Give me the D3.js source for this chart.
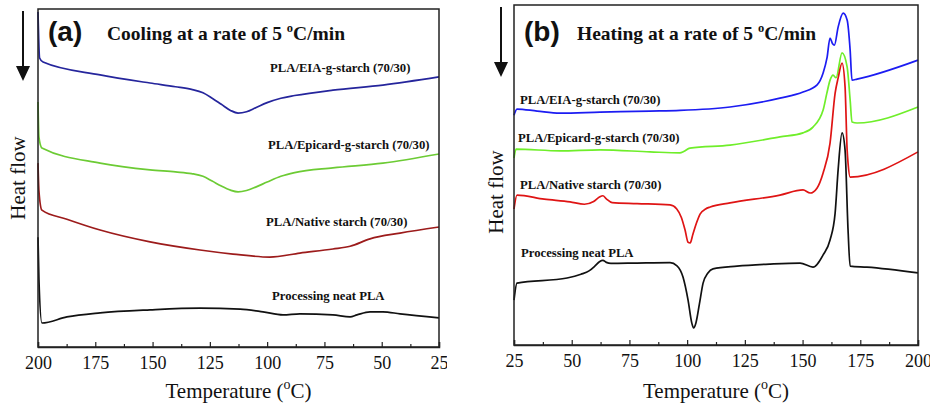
<!DOCTYPE html>
<html>
<head>
<meta charset="utf-8">
<script src="https://cdn.jsdelivr.net/npm/d3@7/dist/d3.min.js"></script>
<style>
  body { margin: 0; background: #fff; }
  svg { display: block; }
</style>
</head>
<body>
<svg id="chart" width="930" height="409"></svg>
<script>
// Temperature in degC, heat flow in arbitrary units (0 = bottom of frame, 100 = top of frame)

const coolTicks = [200, 175, 150, 125, 100, 75, 50, 25];
const heatTicks = [25, 50, 75, 100, 125, 150, 175, 200];

const seriesNames = [
  'PLA/EIA-g-starch (70/30)',
  'PLA/Epicard-g-starch (70/30)',
  'PLA/Native starch (70/30)',
  'Processing neat PLA'
];

// ---- (a) cooling ----
const coolEIA = [
  [200.0, 99.1], [199.3, 85.5], [197.8, 84.3], [172.9, 80.5], [151.1, 78.1], [140.0, 77.0],
  [133.0, 76.2], [128.0, 75.2], [124.0, 73.6], [120.0, 71.8], [116.0, 70.0], [112.7, 69.2],
  [109.0, 69.6], [105.0, 70.8], [100.0, 72.3], [94.0, 73.6], [88.0, 74.4], [71.3, 76.0],
  [49.5, 77.5], [25.0, 79.9]
];
const coolEpicard = [
  [200.0, 72.5], [199.6, 62.1], [198.3, 58.9], [172.9, 54.4], [151.1, 52.4], [140.0, 51.8],
  [133.0, 51.3], [128.0, 50.5], [124.0, 49.1], [120.0, 47.6], [116.0, 46.4], [112.7, 45.9],
  [109.0, 46.3], [105.0, 47.3], [100.0, 48.8], [94.0, 50.5], [88.0, 51.6], [71.3, 53.0],
  [49.5, 54.4], [25.0, 57.1]
];
const coolNative = [
  [200.0, 54.4], [199.6, 46.2], [198.3, 40.5], [187.4, 37.8], [172.9, 34.6], [151.1, 31.1],
  [129.3, 28.7], [114.9, 27.5], [98.8, 26.6], [85.7, 27.8], [71.3, 29.0], [63.8, 29.8],
  [55.1, 32.0], [42.0, 33.7], [25.0, 35.5]
];
const coolNeat = [
  [200.0, 32.5], [199.6, 20.1], [198.3, 7.1], [187.4, 8.9], [172.9, 10.1], [151.1, 11.0],
  [129.3, 11.5], [111.8, 11.2], [101.8, 10.4], [93.1, 9.5], [85.7, 9.8], [71.3, 9.5],
  [63.8, 8.9], [60.8, 9.5], [55.1, 10.4], [49.5, 10.4], [42.0, 9.8], [25.0, 8.6]
];

// ---- (b) heating ----
const heatEIA = [
  [25.0, 67.6], [26.3, 69.4], [35.0, 68.8], [44.9, 68.2], [62.3, 68.5], [83.9, 68.8],
  [96.9, 69.0], [118.6, 70.0], [140.2, 72.6], [150.2, 74.4], [156.3, 76.5], [158.9, 80.0],
  [160.6, 84.5], [161.9, 90.3], [163.0, 88.6], [163.8, 88.2], [165.4, 93.5], [167.6, 97.6],
  [169.3, 95.6], [170.6, 86.8], [171.4, 77.9], [173.6, 78.2], [200.0, 83.8]
];
const heatEpicard = [
  [25.0, 55.0], [25.9, 57.6], [44.9, 57.1], [62.3, 57.4], [83.9, 56.8], [96.9, 56.5],
  [98.5, 56.9], [101.2, 57.9], [118.6, 58.8], [140.2, 61.2], [150.2, 62.4], [154.5, 64.1],
  [158.9, 69.1], [160.5, 74.0], [161.9, 77.9], [163.2, 79.4], [164.5, 78.6], [167.1, 85.9],
  [169.3, 81.8], [170.6, 72.1], [171.4, 65.6], [173.6, 65.3], [200.0, 70.0]
];
const heatNative = [
  [25.0, 40.0], [26.3, 44.1], [38.1, 42.9], [49.3, 42.1], [55.5, 41.4], [59.5, 42.2],
  [62.0, 43.5], [63.5, 43.9], [65.0, 43.0], [67.5, 41.9], [78.3, 41.6], [92.6, 41.2],
  [95.5, 40.0], [97.5, 37.5], [99.1, 33.8], [100.4, 30.2], [101.3, 30.0], [102.5, 32.6],
  [104.0, 35.8], [105.6, 38.5], [108.0, 40.0], [110.0, 40.6], [118.6, 41.8], [140.2, 44.1],
  [150.2, 45.6], [153.3, 44.7], [156.3, 46.2], [158.9, 50.6], [161.9, 59.4], [164.1, 74.1],
  [165.4, 78.5], [167.1, 82.9], [168.4, 76.0], [169.3, 57.4], [169.7, 53.5], [170.6, 49.4],
  [200.0, 56.8]
];
const heatNeat = [
  [25.0, 13.2], [26.3, 18.2], [48.0, 19.7], [54.0, 20.8], [57.5, 21.8], [60.0, 23.2],
  [62.0, 24.5], [63.5, 24.9], [65.0, 24.3], [67.0, 24.0], [78.3, 24.1], [92.6, 24.2],
  [95.6, 23.3], [98.2, 20.0], [100.4, 13.2], [102.0, 6.5], [102.8, 5.0], [103.8, 6.5],
  [105.3, 12.0], [106.9, 18.2], [109.0, 21.2], [111.2, 22.4], [121.6, 23.2], [135.9, 23.8],
  [148.9, 24.1], [154.5, 22.9], [158.9, 26.5], [161.9, 30.9], [164.1, 38.8], [165.4, 51.5],
  [167.1, 62.4], [168.4, 57.4], [169.7, 33.8], [170.6, 23.2], [177.9, 22.9], [200.0, 21.2]
];

const svg = d3.select('#chart');
const SERIF = '"Liberation Serif", "Times New Roman", serif';
const SANS = '"Liberation Sans", Arial, sans-serif';

function supText(sel, before, after, size, supSize) {
  sel.append('tspan').text(before);
  sel.append('tspan').attr('font-size', supSize).attr('dy', -size * 0.42).text('o');
  sel.append('tspan').attr('dy', size * 0.42).text(after);
}

function drawPanel(cfg) {
  const root = svg.append('g');
  if (cfg.clipW) {
    svg.append('defs').append('clipPath').attr('id', cfg.id + 'clip')
      .append('rect').attr('x', cfg.clipX).attr('y', 0).attr('width', cfg.clipW).attr('height', 409);
    root.attr('clip-path', `url(#${cfg.id}clip)`);
  }

  const x = d3.scaleLinear().domain(cfg.domain).range([cfg.left, cfg.right]);
  const y = d3.scaleLinear().domain([0, 100]).range([cfg.bottom, cfg.top]);

  // curves
  const line = d3.line().x(d => x(d[0])).y(d => y(d[1])).curve(d3.curveMonotoneX);
  cfg.series.forEach((s, i) => {
    root.append('path')
      .datum(s)
      .attr('d', line)
      .attr('fill', 'none')
      .attr('stroke', cfg.colors[i])
      .attr('stroke-width', 1.7)
      .attr('stroke-linejoin', 'round');
  });

  // frame
  root.append('rect')
    .attr('x', cfg.left).attr('y', cfg.top)
    .attr('width', cfg.right - cfg.left).attr('height', cfg.bottom - cfg.top)
    .attr('fill', 'none').attr('stroke', '#222').attr('stroke-width', 1.5);

  // major + minor ticks (inward)
  const major = d3.axisBottom(x).tickValues(cfg.ticks).tickSize(-5).tickPadding(9).tickFormat(d3.format('d'));
  const minorVals = d3.range(cfg.ticks.length - 1).map(i => (cfg.ticks[i] + cfg.ticks[i + 1]) / 2);
  const minor = d3.axisBottom(x).tickValues(minorVals).tickSize(-3).tickFormat('');

  const gMinor = root.append('g').attr('transform', `translate(0,${cfg.bottom})`).call(minor);
  gMinor.select('.domain').remove();
  gMinor.selectAll('line').attr('stroke', '#222').attr('stroke-width', 1.2);

  const gMajor = root.append('g').attr('transform', `translate(0,${cfg.bottom})`).call(major);
  gMajor.select('.domain').attr('stroke', '#222').attr('stroke-width', 1.5);
  gMajor.selectAll('line').attr('stroke', '#222').attr('stroke-width', 1.2);
  gMajor.selectAll('text')
    .attr('font-family', SERIF).attr('font-size', 18).attr('fill', '#111');

  // x label
  const xl = root.append('text')
    .attr('x', (cfg.left + cfg.right) / 2).attr('y', 398)
    .attr('text-anchor', 'middle')
    .attr('font-family', SERIF).attr('font-size', 21).attr('fill', '#111');
  supText(xl, 'Temperature (', 'C)', 21, 14);

  // y label
  root.append('text')
    .attr('transform', `translate(${cfg.ylabelX},${cfg.ylabelY}) rotate(-90)`)
    .attr('text-anchor', 'middle')
    .attr('font-family', SERIF).attr('font-size', 21).attr('fill', '#111')
    .text('Heat flow');

  // arrow (endothermic down)
  root.append('line')
    .attr('x1', cfg.arrowX).attr('x2', cfg.arrowX)
    .attr('y1', cfg.top + 2).attr('y2', cfg.top + 60)
    .attr('stroke', '#111').attr('stroke-width', 2);
  root.append('path')
    .attr('d', `M${cfg.arrowX - 7},${cfg.top + 57}L${cfg.arrowX + 7},${cfg.top + 57}L${cfg.arrowX},${cfg.top + 72}Z`)
    .attr('fill', '#111');

  // panel letter + title
  root.append('text')
    .attr('x', cfg.left + 10).attr('y', 41)
    .attr('font-family', SANS).attr('font-weight', 'bold').attr('font-size', 28).attr('fill', '#111')
    .text(cfg.letter);
  const t = root.append('text')
    .attr('x', cfg.titleX).attr('y', 40)
    .attr('font-family', SERIF).attr('font-weight', 'bold').attr('font-size', 19.5).attr('fill', '#111');
  supText(t, cfg.title, 'C/min', 19.5, 12.5);

  // series labels
  seriesNames.forEach((name, i) => {
    root.append('text')
      .attr('x', cfg.labelX[i]).attr('y', cfg.labelY[i])
      .attr('font-family', SERIF).attr('font-weight', 'bold').attr('font-size', 12.7).attr('fill', '#111')
      .text(name);
  });
}

drawPanel({
  id: 'a', clipX: 0, clipW: 447,
  left: 38, right: 439, top: 9, bottom: 347,
  domain: [200, 25], ticks: coolTicks,
  series: [coolEIA, coolEpicard, coolNative, coolNeat],
  colors: ['#25259c', '#6ccb34', '#9c1b1b', '#111111'],
  letter: '(a)', title: 'Cooling at a rate of 5 ', titleX: 107,
  arrowX: 23, ylabelX: 25, ylabelY: 178,
  labelX: [270, 268, 266, 272], labelY: [72, 149, 226, 300]
});

drawPanel({
  id: 'b',
  left: 514, right: 918, top: 5, bottom: 345,
  domain: [25, 200], ticks: heatTicks,
  series: [heatEIA, heatEpicard, heatNative, heatNeat],
  colors: ['#1c1cf2', '#6fee2a', '#df1414', '#111111'],
  letter: '(b)', title: 'Heating at a rate of 5 ', titleX: 577,
  arrowX: 501, ylabelX: 503, ylabelY: 192,
  labelX: [520, 518, 520, 521], labelY: [104, 142, 189, 257]
});
</script>
</body>
</html>
